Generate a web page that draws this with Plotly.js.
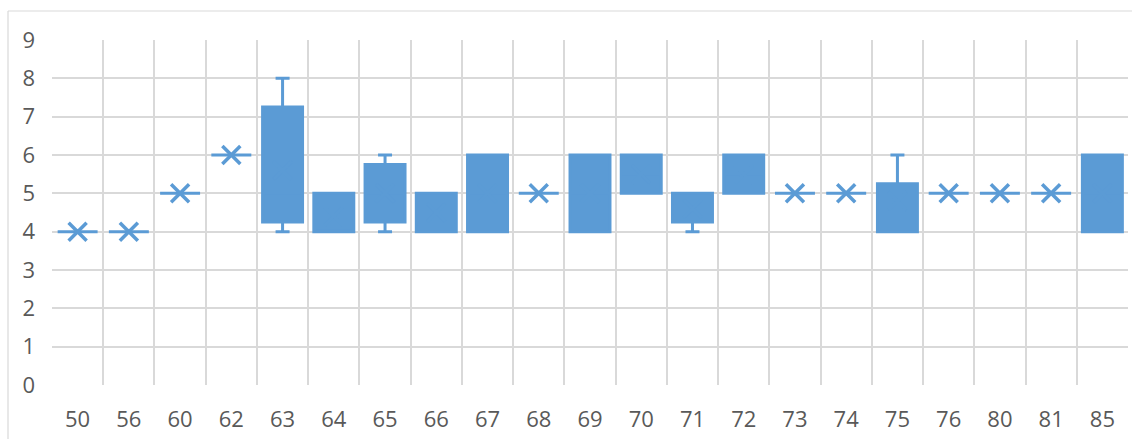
<!DOCTYPE html>
<html>
<head>
<meta charset="utf-8">
<script src="https://cdn.plot.ly/plotly-3.0.1.min.js"></script>
<style>
html,body{margin:0;padding:0;background:#fff;}
#chart{width:1132px;height:439px;}
</style>
</head>
<body>
<div id="chart"></div>
<script>
var categories = ["50","56","60","62","63","64","65","66","67","68","69","70","71","72","73","74","75","76","80","81","85"];
var minVals    = [4, 4, 5, 6, 4,    4, 4,    4,   4, 5, 4, 5,   4,    5, 5, 5, 4,    5, 5, 5, 4];
var q1Vals     = [4, 4, 5, 6, 4.25, 4, 4.25, 4,   4, 5, 4, 5,   4.25, 5, 5, 5, 4,    5, 5, 5, 4];
var medianVals = [4, 4, 5, 6, 5,    4, 5,    4.5, 5, 5, 5, 5.5, 4.5,  5.5, 5, 5, 4.5, 5, 5, 5, 5];
var q3Vals     = [4, 4, 5, 6, 7.25, 5, 5.75, 5,   6, 5, 6, 6,   5,    6, 5, 5, 5.25, 5, 5, 5, 6];
var maxVals    = [4, 4, 5, 6, 8,    5, 6,    5,   6, 5, 6, 6,   5,    6, 5, 5, 6,    5, 5, 5, 6];
var meanVals   = [4, 4, 5, 6, 5.6,  4.4, 5,  4.5, 5, 5, 5, 5.5, 4.6,  5.5, 5, 5, 4.8, 5, 5, 5, 5];

var blue = '#5B9BD5';

var boxTrace = {
  type: 'box',
  x: categories,
  q1: q1Vals,
  median: medianVals,
  q3: q3Vals,
  lowerfence: minVals,
  upperfence: maxVals,
  width: 0.78,
  whiskerwidth: 0.35,
  fillcolor: blue,
  line: {color: blue, width: 3},
  boxpoints: false,
  hoverinfo: 'skip',
  showlegend: false
};

var meanTrace = {
  type: 'scatter',
  mode: 'markers',
  x: categories,
  y: meanVals,
  marker: {symbol: 'x-thin', size: 18, color: blue, line: {color: blue, width: 3.5}},
  hoverinfo: 'skip',
  showlegend: false
};

var layout = {
  width: 1132,
  height: 439,
  margin: {l: 52, r: 4, t: 40, b: 54},
  paper_bgcolor: '#ffffff',
  plot_bgcolor: '#ffffff',
  font: {family: '"Open Sans", sans-serif', size: 22, color: '#595959'},
  xaxis: {
    type: 'category',
    categoryorder: 'array',
    categoryarray: categories,
    range: [-0.5, categories.length - 0.5],
    tickson: 'boundaries',
    showgrid: true,
    gridcolor: '#d9d9d9',
    gridwidth: 2,
    ticks: '',
    ticklabelstandoff: 19,
    showline: false,
    zeroline: false,
    tickfont: {family: '"Open Sans", sans-serif', size: 22, color: '#595959'},
    fixedrange: true
  },
  yaxis: {
    range: [0, 9],
    dtick: 1,
    tick0: 0,
    showgrid: true,
    gridcolor: '#d9d9d9',
    gridwidth: 2,
    zeroline: false,
    showline: false,
    ticks: '',
    ticklabelstandoff: 16,
    tickfont: {family: '"Open Sans", sans-serif', size: 22, color: '#595959'},
    fixedrange: true
  },
  shapes: [
    {type: 'line', xref: 'paper', yref: 'paper', x0: -44/1076, x1: 1.01, y0: 1 + 29/345, y1: 1 + 29/345,
     line: {color: '#d9d9d9', width: 1.2}},
    {type: 'line', xref: 'paper', yref: 'paper', x0: -44/1076, x1: -44/1076, y0: 1 + 29/345, y1: -0.2,
     line: {color: '#d9d9d9', width: 1.2}}
  ]
};

Plotly.newPlot('chart', [boxTrace, meanTrace], layout, {staticPlot: true, displayModeBar: false});
</script>
</body>
</html>
